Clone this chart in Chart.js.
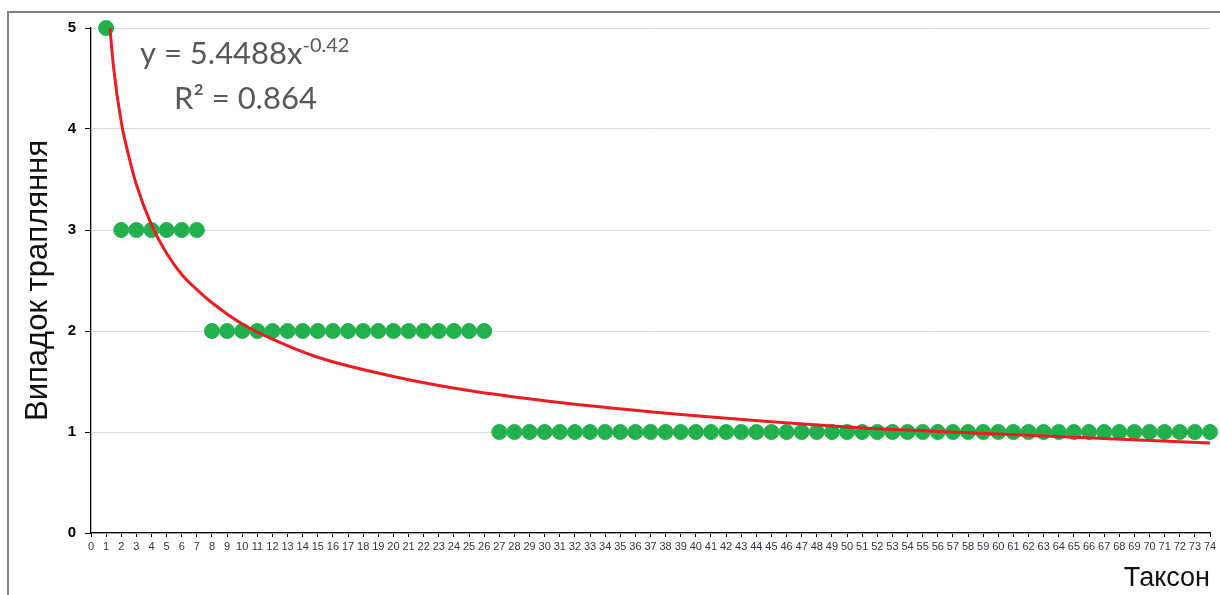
<!DOCTYPE html>
<html lang="uk">
  <head>
    <meta charset="utf-8" />
    <title>Випадок трапляння</title>
    <style>
      body { margin: 0; background: #fff; }
      #wrap { position: relative; width: 1220px; height: 595px; }
    </style>
  </head>
  <body>
    <div id="wrap">
      <canvas id="chart" width="1220" height="595"></canvas>
    </div>

    <script src="https://cdn.jsdelivr.net/npm/chart.js@4.4.1/dist/chart.umd.min.js"></script>
    <script>
      // taxa and how often they occur
      const taxonX = [];
      for (let i = 1; i <= 74; i++) taxonX.push(i);
      const occurrence = [
        5,
        3, 3, 3, 3, 3, 3,
        2, 2, 2, 2, 2, 2, 2, 2, 2, 2, 2, 2, 2, 2, 2, 2, 2, 2, 2,
        1, 1, 1, 1, 1, 1, 1, 1, 1, 1, 1, 1, 1, 1, 1, 1, 1, 1, 1, 1,
        1, 1, 1, 1, 1, 1, 1, 1, 1, 1, 1, 1, 1, 1, 1, 1, 1, 1, 1, 1,
        1, 1, 1, 1, 1, 1, 1, 1
      ];

      // power trend line
      const trendX = [1, 1.5, 2, 2.5, 3, 4, 5, 6, 7, 8, 10, 12, 15, 20, 25, 30, 40, 50, 60, 74];
      const trendY = [5.45, 4.6, 4.07, 3.73, 3.45, 3.05, 2.77, 2.56, 2.41, 2.28, 2.07, 1.92, 1.74, 1.55, 1.41, 1.31, 1.16, 1.05, 0.98, 0.89];

      const yTicks = [0, 1, 2, 3, 4, 5];

      const GREEN = "#21b04b";
      const RED = "#ec1c24";

      const pointData = taxonX.map((x, i) => ({ x: x, y: occurrence[i] }));
      const trendData = trendX.map((x, i) => ({ x: x, y: trendY[i] }));

      const frame = {
        id: "frame",
        beforeDraw(chart) {
          const ctx = chart.ctx;
          ctx.save();
          ctx.strokeStyle = "#808080";
          ctx.lineWidth = 2;
          ctx.beginPath();
          ctx.moveTo(8, 595);
          ctx.lineTo(8, 12);
          ctx.lineTo(1220, 12);
          ctx.stroke();
          ctx.restore();
        },
        afterDraw(chart) {
          const ctx = chart.ctx;
          ctx.save();
          ctx.fillStyle = "#595959";
          ctx.textBaseline = "alphabetic";
          ctx.font = "31px Lato";
          const main = "y = 5.4488x";
          ctx.fillText(main, 140, 64);
          const w = ctx.measureText(main).width;
          ctx.font = "20px Lato";
          ctx.fillText("-0.42", 140 + w, 52);
          ctx.font = "31px Lato";
          ctx.fillText("R² = 0.864", 174, 109);
          ctx.restore();
        },
      };

      new Chart(document.getElementById("chart"), {
        type: "scatter",
        data: {
          datasets: [
            {
              label: "Випадок трапляння",
              data: pointData,
              backgroundColor: GREEN,
              borderColor: GREEN,
              pointRadius: 7.5,
              pointHoverRadius: 7.5,
              clip: false,
              order: 2,
            },
            {
              type: "line",
              label: "Тренд",
              data: trendData,
              borderColor: RED,
              borderWidth: 3,
              pointRadius: 0,
              fill: false,
              cubicInterpolationMode: "monotone",
              order: 1,
            },
          ],
        },
        plugins: [frame],
        options: {
          responsive: false,
          animation: false,
          layout: { padding: { top: 28, right: 10, left: 0, bottom: 0 } },
          plugins: {
            legend: { display: false },
            tooltip: { enabled: false },
          },
          scales: {
            x: {
              type: "linear",
              min: 0,
              max: 74,
              afterFit: (s) => { s.height = 62; },
              afterBuildTicks: (s) => {
                s.ticks = taxonX.map((v) => ({ value: v }));
                s.ticks.unshift({ value: 0 });
              },
              ticks: {
                autoSkip: false,
                maxRotation: 0,
                padding: 3,
                color: "#2f3446",
                font: { family: "Liberation Sans Narrow, Liberation Sans", size: 11 },
              },
              grid: {
                drawOnChartArea: false,
                tickLength: 4,
                tickColor: "#000",
              },
              border: { color: "#000", width: 1.3 },
              title: {
                display: true,
                text: "Таксон",
                align: "end",
                color: "#111",
                font: { family: "Liberation Sans", size: 27 },
                padding: { top: 2, bottom: 0 },
              },
            },
            y: {
              min: 0,
              max: 5,
              afterFit: (s) => { s.width = 91; },
              afterBuildTicks: (s) => {
                s.ticks = yTicks.map((v) => ({ value: v }));
              },
              ticks: {
                color: "#000",
                padding: 9,
                font: { family: "Liberation Sans", size: 15, weight: "bold" },
              },
              grid: {
                color: "#d9d9d9",
                lineWidth: 1,
                tickLength: 6,
                tickColor: "#000",
              },
              border: { color: "#000", width: 1.3 },
              title: {
                display: true,
                text: "Випадок трапляння",
                color: "#111",
                font: { family: "Liberation Sans", size: 31 },
                padding: { top: 20, bottom: 0 },
              },
            },
          },
        },
      });
    </script>
  </body>
</html>
